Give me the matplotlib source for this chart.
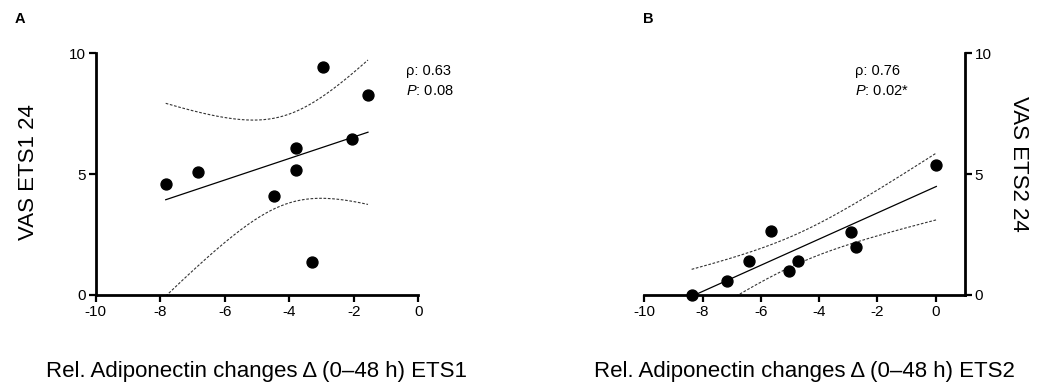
import numpy as np
import matplotlib
matplotlib.use("Agg")
import matplotlib.pyplot as plt

plt.rcParams['font.family'] = ['Liberation Sans', 'DejaVu Sans']
plt.rcParams['mathtext.fontset'] = 'custom'
plt.rcParams['mathtext.rm'] = 'Liberation Sans'
plt.rcParams['mathtext.it'] = 'Liberation Sans:italic'
plt.rcParams['axes.unicode_minus'] = False

# ETS1 panel
x_ets1 = np.array([-7.83, -6.84, -4.46, -3.80, -3.80, -3.29, -2.95, -2.06, -1.56])
y_ets1 = np.array([4.58, 5.09, 4.10, 6.10, 5.17, 1.35, 9.45, 6.44, 8.29])
stats_ets1 = ["ρ: 0.63", "$P$: 0.08"]

# ETS2 panel
x_ets2 = np.array([-8.375, -7.15, -6.40, -5.64, -5.05, -4.71, -2.92, -2.73, 0.02])
y_ets2 = np.array([0.0, 0.58, 1.41, 2.66, 1.01, 1.41, 2.61, 2.00, 5.38])
stats_ets2 = ["ρ: 0.76", "$P$: 0.02*"]

xticks = [-10, -8, -6, -4, -2, 0]
yticks = [0, 5, 10]
T_CRIT = 2.365  # t(0.975, df=7)

W, H = 1047, 387


def fit_band(x, y):
    # linear fit with 95% confidence band of the mean
    slope, icpt = np.polyfit(x, y, 1)
    xs = np.linspace(x.min(), x.max(), 200)
    n = len(x)
    resid = y - (slope * x + icpt)
    s = np.sqrt(np.sum(resid ** 2) / (n - 2))
    sxx = np.sum((x - x.mean()) ** 2)
    se = s * np.sqrt(1 / n + (xs - x.mean()) ** 2 / sxx)
    fit = slope * xs + icpt
    return xs, fit, fit - T_CRIT * se, fit + T_CRIT * se


def draw(ax, x, y):
    xs, fit, lo, hi = fit_band(x, y)
    ax.plot(xs, fit, color="black", lw=0.9)
    ax.plot(xs, lo, color="#333333", lw=0.8, dashes=(2.4, 1.5))
    ax.plot(xs, hi, color="#333333", lw=0.8, dashes=(2.4, 1.5))
    ax.scatter(x, y, s=62, color="black", zorder=5, clip_on=False)
    ax.set_ylim(0, 10)
    ax.set_xticks(xticks)
    ax.set_yticks(yticks)
    ax.spines["top"].set_visible(False)
    for sp in ax.spines.values():
        sp.set_linewidth(2.0)
    ax.tick_params(width=1.6, length=5, labelsize=11, pad=2)


fig = plt.figure(figsize=(W / 100, H / 100), dpi=100)

axA = fig.add_axes([95.7 / W, (H - 295) / H, 322.6 / W, 241.7 / H])
draw(axA, x_ets1, y_ets1)
axA.set_xlim(-10, 0)
axA.spines["right"].set_visible(False)
axA.set_ylabel("VAS ETS1 24", fontsize=16)
axA.yaxis.set_label_coords(-0.176, 0.509)
axA.set_xlabel("Rel. Adiponectin changes Δ (0–48 h) ETS1", fontsize=16, va="center")
axA.xaxis.set_label_coords(0.5, -0.315)

axB = fig.add_axes([644.3 / W, (H - 295) / H, 320.6 / W, 241.7 / H])
draw(axB, x_ets2, y_ets2)
axB.set_xlim(-10, 1)
axB.spines["left"].set_visible(False)
axB.yaxis.tick_right()
axB.yaxis.set_label_position("right")
axB.set_ylabel("VAS ETS2 24", fontsize=16, rotation=270, va="center")
axB.yaxis.set_label_coords(1.166, 0.544)
axB.set_xlabel("Rel. Adiponectin changes Δ (0–48 h) ETS2", fontsize=16, va="center")
axB.xaxis.set_label_coords(0.5, -0.315)

# stats annotations
for left, lines in [(406, stats_ets1), (855, stats_ets2)]:
    fig.text(left / W, 1 - 75 / H, lines[0], fontsize=10.5, va="baseline")
    fig.text(left / W, 1 - 95 / H, lines[1], fontsize=10.5, va="baseline")

fig.text(14.5 / W, 1 - 19 / H, "A", fontsize=10.5, weight="bold", va="center")
fig.text(642.5 / W, 1 - 19 / H, "B", fontsize=10.5, weight="bold", va="center")

fig.savefig("out.png", dpi=100)
